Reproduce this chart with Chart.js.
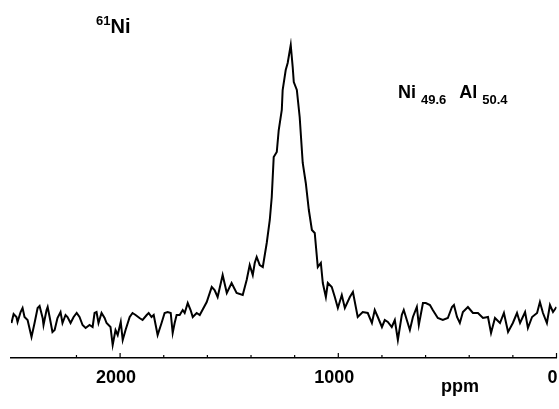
<!DOCTYPE html>
<html>
<head>
<meta charset="utf-8">
<script src="https://cdn.jsdelivr.net/npm/chart.js@4"></script>
<style>
  html, body { margin: 0; padding: 0; background: #fff; }
  #wrap { width: 559px; height: 409px; }
</style>
</head>
<body>
<div id="wrap"><canvas id="nmrChart"></canvas></div>
<script>
// chemical shift (ppm) from left to right
const ppm = [
  2498,2488,2475,2470,2456,2447,2438,2424,2406,2392,
  2378,2369,2355,2351,2337,2332,2323,2310,2300,2287,
  2273,2264,2250,2241,2227,2213,2199,2186,2172,2158,
  2140,2126,2117,2108,2099,2085,2071,2062,2044,2034,
  2021,2011,1997,1988,1975,1956,1943,1929,1911,1897,
  1878,1869,1856,1846,1837,1828,1810,1796,1782,1768,
  1759,1750,1741,1727,1713,1704,1690,1677,1667,1649,
  1635,1603,1580,1567,1553,1530,1511,1489,1466,1438,
  1420,1406,1392,1383,1374,1360,1346,1328,1314,1305,
  1296,1282,1273,1259,1255,1241,1232,1218,1209,1204,
  1190,1177,1163,1149,1135,1121,1108,1094,1080,1071,
  1057,1048,1030,1016,1002,984,970,947,933,911,
  888,865,846,833,819,800,787,773,755,741,
  727,709,700,686,672,658,640,631,612,599,
  580,567,544,521,498,479,470,456,443,429,
  406,383,360,337,314,300,282,259,241,222,
  200,181,167,144,131,112,89,76,62,44,
  30,16,0
];
// signal intensity (arbitrary units)
const intensity = [
  35,44,41,36,46,50,41,38,21,35,
  50,52,40,33,48,51,41,26,28,40,
  46,35,43,41,35,41,45,41,33,30,
  33,31,45,46,35,45,40,35,31,13,
  28,23,36,18,28,41,45,43,40,38,
  43,45,41,43,33,23,35,45,46,45,
  25,35,43,43,48,45,55,48,41,45,
  43,56,71,68,61,83,65,75,65,63,
  78,93,83,95,101,93,91,115,138,161,
  201,206,228,248,268,288,295,313,291,276,
  268,241,195,175,148,128,125,91,95,75,
  61,75,71,61,50,63,50,61,66,41,
  46,45,35,48,41,31,38,36,31,38,
  18,43,48,38,28,41,51,33,55,55,
  53,48,40,38,40,51,53,41,35,46,
  51,45,45,40,41,25,40,35,45,26,
  35,45,35,46,30,41,45,56,45,35,
  53,46,51
];
const majorTicks = [0, 1000, 2000];
const axisLabel = 'ppm';
const nucleus = { mass: '61', symbol: 'Ni' };
const formula = [['Ni', '49.6'], ['Al', '50.4']];

const points = ppm.map((p, i) => ({ x: p, y: intensity[i] }));
const FONT = '"Liberation Sans", Arial, Helvetica, sans-serif';

// small tick marks pointing up from the axis line
const tickMarks = {
  id: 'tickMarks',
  afterDraw: chart => {
    const { ctx, chartArea, scales: { x } } = chart;
    ctx.save();
    ctx.strokeStyle = '#000';
    ctx.lineWidth = 1.2;
    x.ticks.forEach(t => {
      if (t.value % 200 !== 0) return;
      const px = x.getPixelForValue(t.value);
      const len = majorTicks.includes(t.value) ? 5 : 3;
      ctx.beginPath();
      ctx.moveTo(px, chartArea.bottom);
      ctx.lineTo(px, chartArea.bottom - len);
      ctx.stroke();
    });
    ctx.restore();
  }
};

// labels: nucleus, composition and unit
const labels = {
  id: 'labels',
  afterDraw: chart => {
    const { ctx } = chart;
    ctx.save();
    ctx.fillStyle = '#000';
    ctx.textBaseline = 'alphabetic';
    ctx.textAlign = 'left';

    ctx.font = 'bold 13px ' + FONT;
    ctx.fillText(nucleus.mass, 96, 25);
    const mw = ctx.measureText(nucleus.mass).width;
    ctx.font = 'bold 20px ' + FONT;
    ctx.fillText(nucleus.symbol, 96 + mw, 33);

    let cx = 398;
    formula.forEach(([el, sub]) => {
      ctx.font = 'bold 18px ' + FONT;
      ctx.fillText(el, cx, 98);
      cx += ctx.measureText(el).width + 5;
      ctx.font = 'bold 13px ' + FONT;
      ctx.fillText(sub, cx, 104);
      cx += ctx.measureText(sub).width + 13;
    });

    ctx.font = 'bold 18px ' + FONT;
    ctx.textAlign = 'center';
    ctx.fillText(axisLabel, 460, 392);
    ctx.restore();
  }
};

new Chart(document.getElementById('nmrChart'), {
  type: 'line',
  data: {
    datasets: [{
      data: points,
      borderColor: '#000',
      borderWidth: 2,
      pointRadius: 0,
      tension: 0,
      fill: false
    }]
  },
  options: {
    responsive: true,
    maintainAspectRatio: false,
    animation: false,
    layout: { padding: { left: 11, right: 2.5, top: 38, bottom: 0 } },
    plugins: { legend: { display: false }, tooltip: { enabled: false } },
    scales: {
      x: {
        type: 'linear',
        reverse: true,
        min: 0,
        max: 2500,
        grid: { display: false, drawTicks: false },
        border: { display: true, color: '#000', width: 1.5 },
        ticks: {
          stepSize: 200,
          autoSkip: false,
          maxRotation: 0,
          padding: 9,
          labelOffset: -4,
          color: '#000',
          font: { family: FONT, size: 18, weight: 'bold' },
          callback: v => majorTicks.includes(v) ? String(v) : ''
        },
        afterFit: scale => {
          scale.height = 51;
          scale.paddingLeft = 0;
          scale.paddingRight = 0;
        }
      },
      y: {
        display: false,
        min: 0,
        max: 320
      }
    }
  },
  plugins: [tickMarks, labels]
});
</script>
</body>
</html>
